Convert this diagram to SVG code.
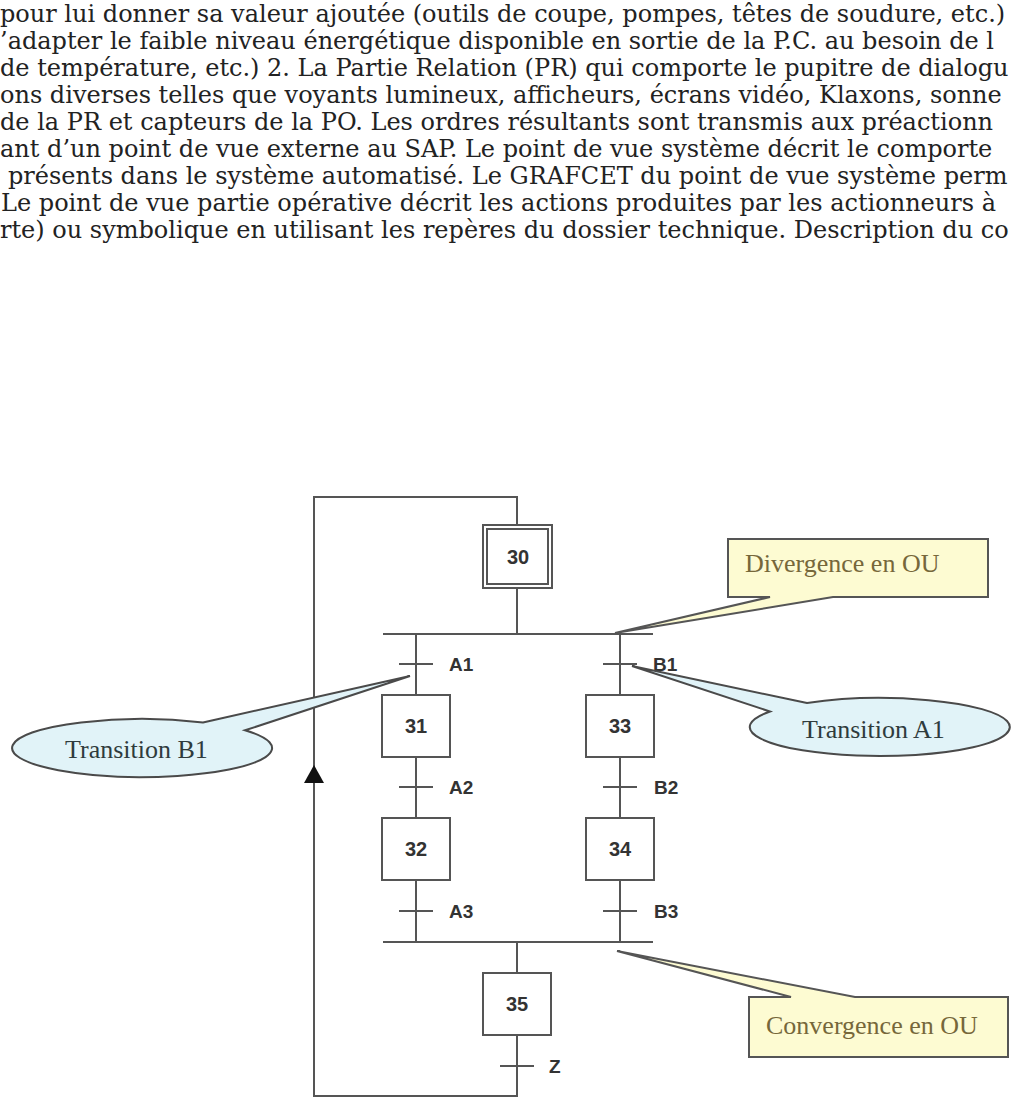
<svg xmlns="http://www.w3.org/2000/svg" width="1013" height="1106" viewBox="0 0 1013 1106">
<style>
.body{font-family:"DejaVu Serif",serif;font-size:24px;fill:#222}
.ln{fill:none;stroke:#555;stroke-width:2}
.box{fill:#fff;stroke:#555;stroke-width:2}
.num{font-family:"Liberation Sans",Arial,sans-serif;font-size:20px;font-weight:bold;fill:#333;text-anchor:middle}
.lbl{font-family:"Liberation Sans",Arial,sans-serif;font-size:19px;font-weight:bold;fill:#333}
.note{fill:#fdfbd2;stroke:#555;stroke-width:2}
.bub{fill:#e1f3f8;stroke:#4a4a4a;stroke-width:2}
.nt{font-family:"Liberation Serif","Times New Roman",serif;font-size:26px;fill:#76673a}
.bt{font-family:"Liberation Serif","Times New Roman",serif;font-size:26px;fill:#2f3b3d}
</style>
<rect width="1013" height="1106" fill="#fff"/>
<g id="paragraph">
<text class="body" x="0" y="22">pour lui donner sa valeur ajoutée (outils de coupe, pompes, têtes de soudure, etc.)</text>
<text class="body" x="0" y="49">’adapter le faible niveau énergétique disponible en sortie de la P.C. au besoin de l</text>
<text class="body" x="0" y="76">de température, etc.) 2. La Partie Relation (PR) qui comporte le pupitre de dialogu</text>
<text class="body" x="0" y="103">ons diverses telles que voyants lumineux, afficheurs, écrans vidéo, Klaxons, sonne</text>
<text class="body" x="0" y="130">de la PR et capteurs de la PO. Les ordres résultants sont transmis aux préactionn</text>
<text class="body" x="0" y="157">ant d’un point de vue externe au SAP. Le point de vue système décrit le comporte</text>
<text class="body" x="8" y="184">présents dans le système automatisé. Le GRAFCET du point de vue système perm</text>
<text class="body" x="1" y="211">Le point de vue partie opérative décrit les actions produites par les actionneurs à</text>
<text class="body" x="0" y="238">rte) ou symbolique en utilisant les repères du dossier technique. Description du co</text>
</g>
<g id="connectors">
<path class="ln" d="M517,1035 V1096 H314 V497 H517 V525"/>
<polygon points="314,765 304,783 324,783" fill="#111"/>
<path class="ln" d="M517,588 V634"/>
<path class="ln" d="M383,634 H653"/>
<path class="ln" d="M416,634 V695 M416,757 V818 M416,880 V942"/>
<path class="ln" d="M620,634 V695 M620,757 V818 M620,880 V942"/>
<path class="ln" d="M383,942 H653"/>
<path class="ln" d="M517,942 V973"/>
</g>
<g id="step30"><rect class="box" x="483" y="525" width="69" height="63"/><rect class="box" x="487" y="529" width="61" height="55"/><text class="num" x="518" y="564">30</text></g>
<g id="step31"><rect class="box" x="382" y="695" width="68" height="62"/><text class="num" x="416" y="733">31</text></g>
<g id="step32"><rect class="box" x="382" y="818" width="68" height="62"/><text class="num" x="416" y="856">32</text></g>
<g id="step33"><rect class="box" x="586" y="695" width="68" height="62"/><text class="num" x="620" y="733">33</text></g>
<g id="step34"><rect class="box" x="586" y="818" width="68" height="62"/><text class="num" x="620" y="856">34</text></g>
<g id="step35"><rect class="box" x="483" y="973" width="68" height="62"/><text class="num" x="517" y="1011">35</text></g>
<g id="tA1"><path class="ln" d="M399,664 H433"/><text class="lbl" x="449" y="671">A1</text></g>
<g id="tA2"><path class="ln" d="M399,787 H433"/><text class="lbl" x="449" y="794">A2</text></g>
<g id="tA3"><path class="ln" d="M399,911 H433"/><text class="lbl" x="449" y="918">A3</text></g>
<g id="tB1"><path class="ln" d="M603,664 H637"/><text class="lbl" x="653" y="671">B1</text></g>
<g id="tB2"><path class="ln" d="M603,787 H637"/><text class="lbl" x="654" y="794">B2</text></g>
<g id="tB3"><path class="ln" d="M603,911 H637"/><text class="lbl" x="654" y="918">B3</text></g>
<g id="tZ"><path class="ln" d="M500,1066 H534"/><text class="lbl" x="549" y="1073">Z</text></g>
<g id="note-divergence"><path class="note" d="M728,539 H988 V597 H833 L615,633 L770,597 H728 Z"/><text class="nt" x="745" y="572">Divergence en OU</text></g>
<g id="note-convergence"><path class="note" d="M749,997 H791 L617,951 L855,997 H1008 V1057 H749 Z"/><text class="nt" x="766" y="1034">Convergence en OU</text></g>
<g id="bubble-B1"><path class="bub" d="M203,722.4 L410,676 L245,730.3 A130,29 0 1 1 203,722.4 Z"/><text class="bt" x="65" y="758">Transition B1</text></g>
<g id="bubble-A1"><path class="bub" d="M807,703 L632,666 L770,711.5 A130,29 0 1 0 807,703 Z"/><text class="bt" x="802" y="738">Transition A1</text></g>
</svg>
